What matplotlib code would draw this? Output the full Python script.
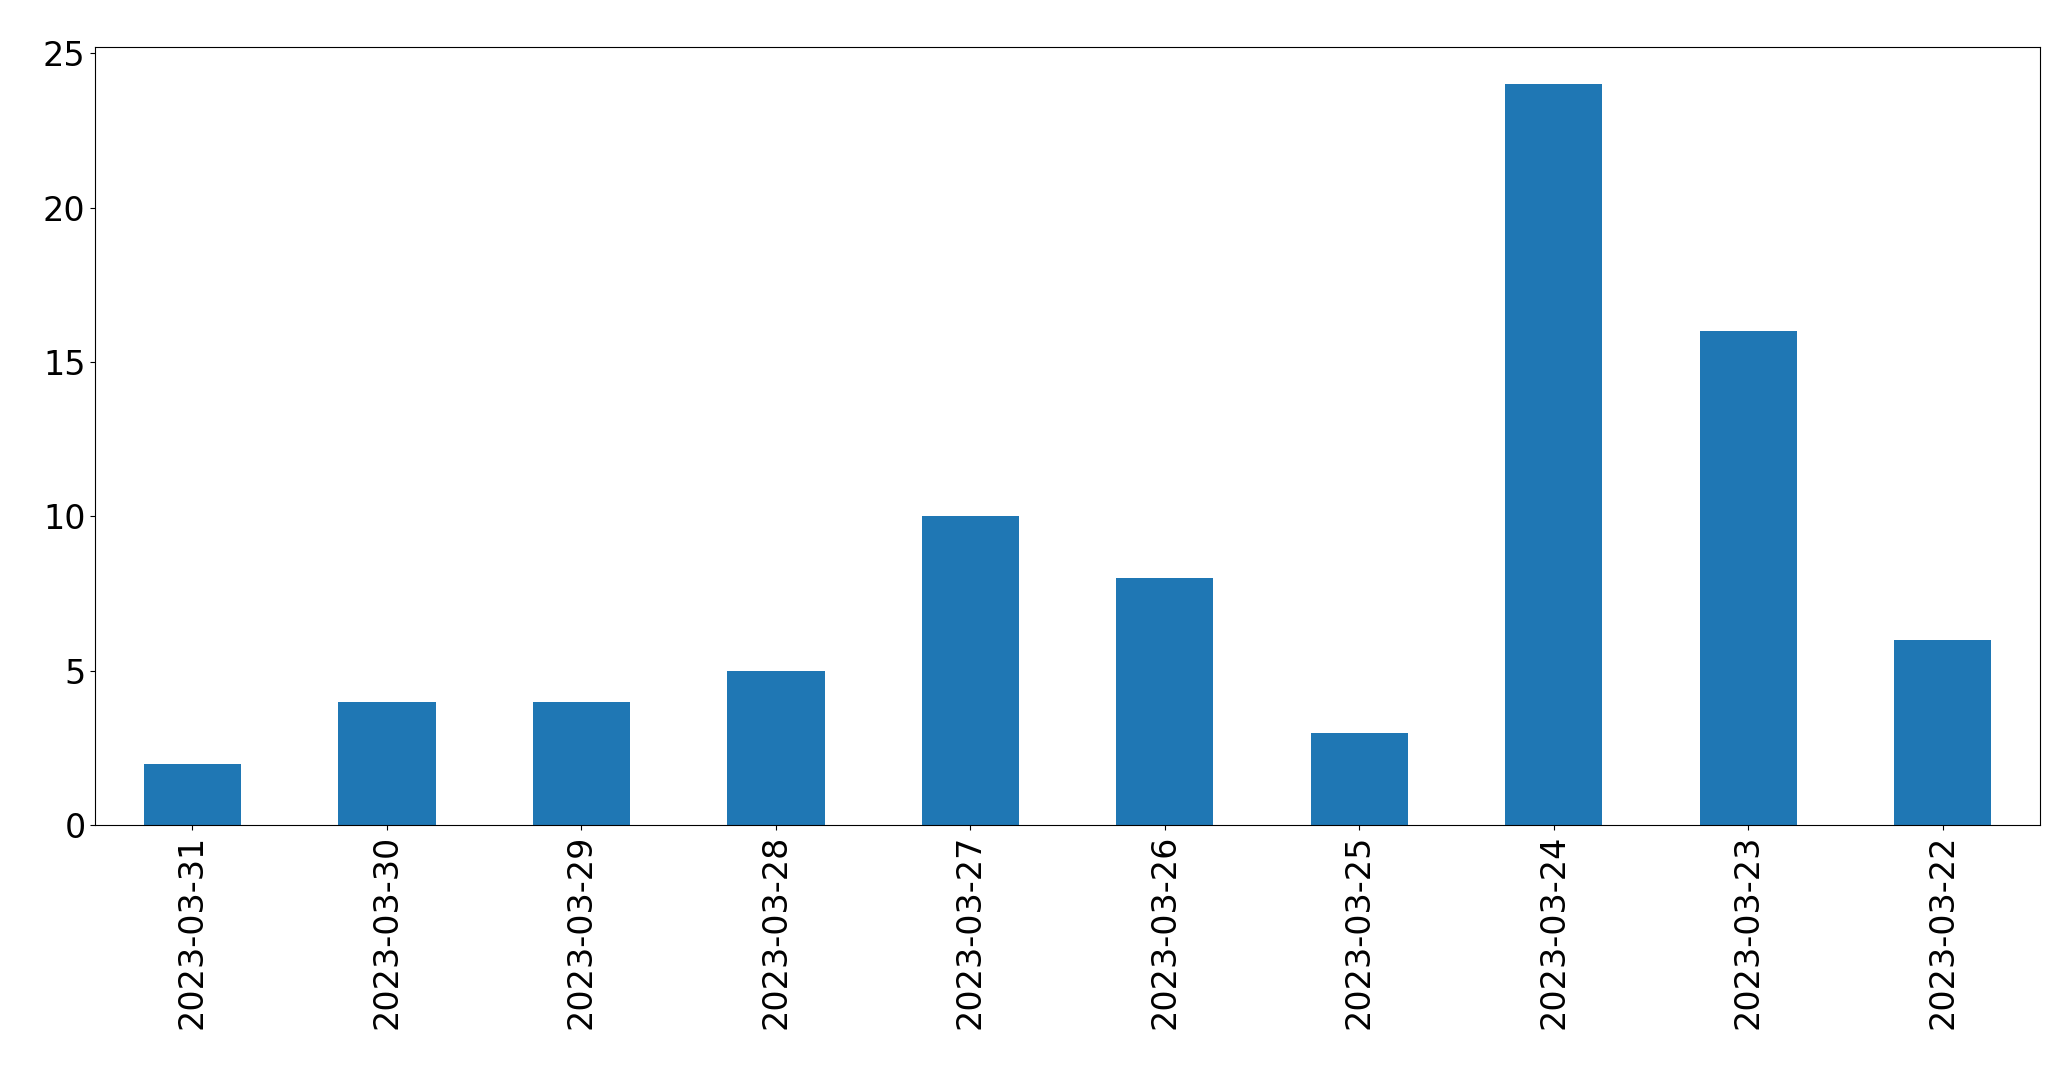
import matplotlib
matplotlib.use("Agg")
import matplotlib.pyplot as plt

dates = ["2023-03-31","2023-03-30","2023-03-29","2023-03-28","2023-03-27",
         "2023-03-26","2023-03-25","2023-03-24","2023-03-23","2023-03-22"]
counts = [2,4,4,5,10,8,3,24,16,6]

fig = plt.figure(figsize=(20.71,10.69), dpi=100)
ax = fig.add_axes([0.046, 0.228, 0.939, 0.728])
x = range(len(dates))
ax.bar(x, counts, width=0.5, color="#1f77b4")
ax.set_xticks(list(x))
ax.set_xticklabels(dates, rotation=90)
ax.set_xlim(-0.5, len(dates)-0.5)
ax.set_ylim(0, 25.2)
ax.tick_params(labelsize=24)
fig.savefig("out.png", dpi=100)
